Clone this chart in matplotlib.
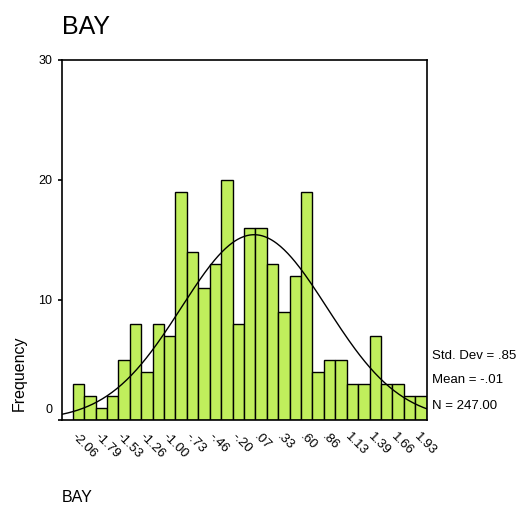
import numpy as np
import matplotlib
matplotlib.use("Agg")
import matplotlib.pyplot as plt
import matplotlib.transforms as mtransforms

# ---- data ----
counts = [3, 2, 1, 2, 5, 8, 4, 8, 7, 19, 14, 11, 13, 20, 8, 16,
          16, 13, 9, 12, 19, 4, 5, 5, 3, 3, 7, 3, 3, 2, 2]
first_center = -2.06
bin_width = 0.1332
tick_labels = ["-2.06", "-1.79", "-1.53", "-1.26", "-1.00", "-.73", "-.46", "-.20",
               ".07", ".33", ".60", ".86", "1.13", "1.39", "1.66", "1.93"]
std_dev = 0.85
mean = -0.01
n_total = 247
yticks = [0, 10, 20, 30]

FONT = ["Liberation Sans Narrow", "Liberation Sans", "DejaVu Sans"]
plt.rcParams['font.family'] = FONT

fig = plt.figure(figsize=(5.2, 5.08), dpi=100)
ax = fig.add_axes([62/520, 88/508, 365/520, 360/508])

centers = first_center + bin_width * np.arange(len(counts))
ax.bar(centers, counts, width=bin_width, color="#c0ee5c", edgecolor="black",
       linewidth=1.0, align="center", zorder=2)

xmin = centers[0] - bin_width/2 - 0.125
xmax = centers[-1] + bin_width/2 + 0.004
xs = np.linspace(xmin, xmax, 300)
pdf = np.exp(-0.5*((xs-mean)/std_dev)**2) / (std_dev*np.sqrt(2*np.pi))
ax.plot(xs, n_total*bin_width*pdf, color="black", linewidth=1.0, zorder=3)

ax.set_xlim(xmin, xmax)
ax.set_ylim(0, 30)

ax.set_yticks(yticks)
ax.set_yticklabels([str(v) for v in yticks], fontsize=9)
ax.tick_params(axis='y', direction='out', length=3, width=1.2, pad=4)
for lab in ax.get_yticklabels():
    if lab.get_text() == "0":
        lab.set_transform(lab.get_transform() +
                          mtransforms.ScaledTranslation(0, 8/72, fig.dpi_scale_trans))

ax.set_xticks(centers[::2])
ax.set_xticklabels(tick_labels, rotation=-45, ha='left', va='top',
                   rotation_mode='anchor', fontsize=9.5)
ax.tick_params(axis='x', length=0, pad=8)
for lab in ax.get_xticklabels():
    lab.set_transform(lab.get_transform() +
                      mtransforms.ScaledTranslation(-1/100, 0, fig.dpi_scale_trans))

for s in ax.spines.values():
    s.set_linewidth(1.2)

fig.text(62/520, 1 - 27/508, "BAY", fontsize=18, ha='left', va='center')
fig.text(62/520, 1 - 498/508, "BAY", fontsize=11.5, ha='left', va='center')
fig.text(19/520, 1 - 373/508, "Frequency", fontsize=11.5, rotation=90,
         ha='center', va='center')

stats = ["Std. Dev = .85", "Mean = -.01", "N = 247.00"]
for txt, yy in zip(stats, [356, 380, 406]):
    fig.text(432/520, 1 - yy/508, txt, fontsize=9.5, ha='left', va='center')

fig.savefig("out.png", dpi=100)
